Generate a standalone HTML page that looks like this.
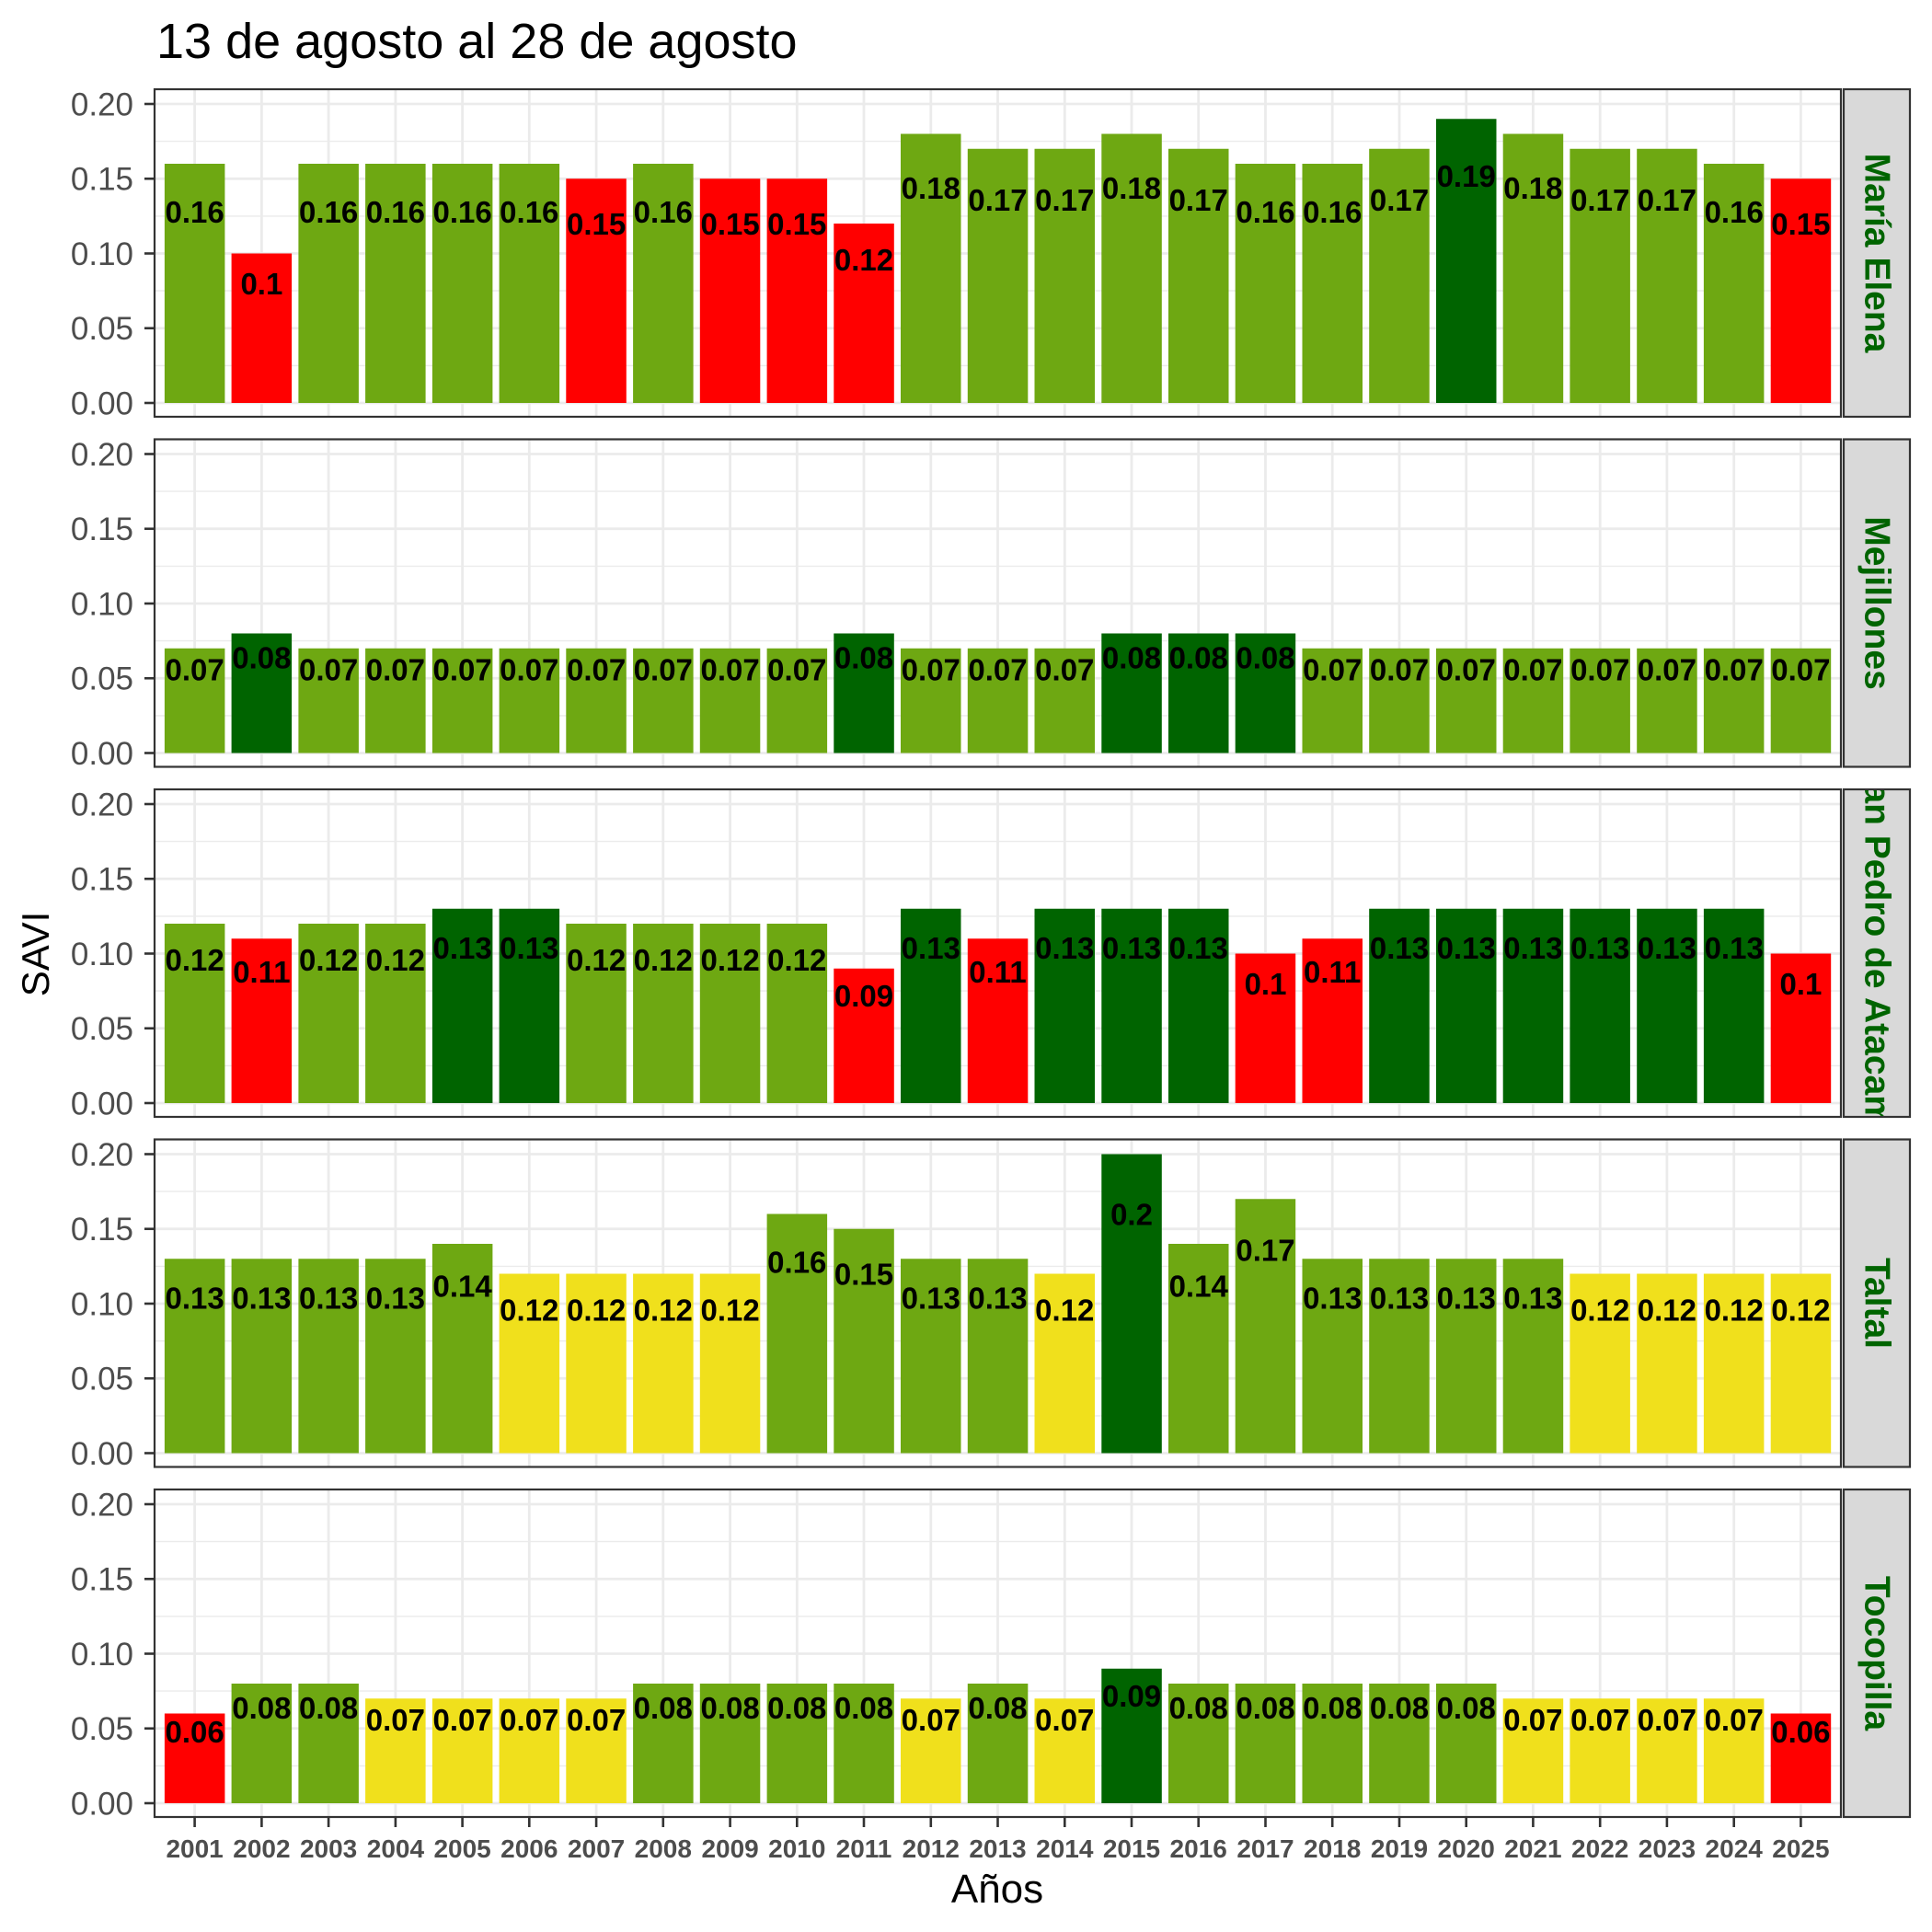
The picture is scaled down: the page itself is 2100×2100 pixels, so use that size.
<!DOCTYPE html>
<html><head><meta charset="utf-8"><style>
html,body{margin:0;padding:0;background:#fff}
svg{display:block}
.g{fill:#6EA812}.d{fill:#006400}.r{fill:#FF0000}.y{fill:#F0E01C}
.v{font-family:"Liberation Sans",Arial,sans-serif;font-weight:bold;font-size:33px;fill:#000;text-anchor:middle}
.t{font-family:"Liberation Sans",Arial,sans-serif;font-size:35px;fill:#4d4d4d;text-anchor:end}
.s{font-family:"Liberation Sans",Arial,sans-serif;font-weight:bold;font-size:39px;fill:#006400;text-anchor:middle;dominant-baseline:central}
.x{font-family:"Liberation Sans",Arial,sans-serif;font-weight:bold;font-size:28px;fill:#4d4d4d;text-anchor:middle}
</style></head><body>
<svg width="2100" height="2100" viewBox="0 0 2100 2100" xmlns="http://www.w3.org/2000/svg">
<defs>
<g id="grid">
<rect x="0" y="0" width="1833" height="356" fill="#fff"/>
<g stroke="#ebebeb" stroke-width="1.4">
<line x1="0" x2="1833" y1="300.4" y2="300.4"/><line x1="0" x2="1833" y1="219.1" y2="219.1"/><line x1="0" x2="1833" y1="137.9" y2="137.9"/><line x1="0" x2="1833" y1="56.6" y2="56.6"/>
</g>
<g stroke="#ebebeb" stroke-width="2.8">
<line x1="0" x2="1833" y1="341" y2="341"/><line x1="0" x2="1833" y1="259.75" y2="259.75"/><line x1="0" x2="1833" y1="178.5" y2="178.5"/><line x1="0" x2="1833" y1="97.25" y2="97.25"/><line x1="0" x2="1833" y1="16" y2="16"/>
<line x1="43.6" x2="43.6" y1="0" y2="356"/><line x1="116.4" x2="116.4" y1="0" y2="356"/><line x1="189.1" x2="189.1" y1="0" y2="356"/><line x1="261.9" x2="261.9" y1="0" y2="356"/><line x1="334.6" x2="334.6" y1="0" y2="356"/><line x1="407.3" x2="407.3" y1="0" y2="356"/><line x1="480.1" x2="480.1" y1="0" y2="356"/><line x1="552.8" x2="552.8" y1="0" y2="356"/><line x1="625.6" x2="625.6" y1="0" y2="356"/><line x1="698.3" x2="698.3" y1="0" y2="356"/><line x1="771" x2="771" y1="0" y2="356"/><line x1="843.8" x2="843.8" y1="0" y2="356"/><line x1="916.5" x2="916.5" y1="0" y2="356"/><line x1="989.3" x2="989.3" y1="0" y2="356"/><line x1="1062" x2="1062" y1="0" y2="356"/><line x1="1134.7" x2="1134.7" y1="0" y2="356"/><line x1="1207.5" x2="1207.5" y1="0" y2="356"/><line x1="1280.2" x2="1280.2" y1="0" y2="356"/><line x1="1353" x2="1353" y1="0" y2="356"/><line x1="1425.7" x2="1425.7" y1="0" y2="356"/><line x1="1498.4" x2="1498.4" y1="0" y2="356"/><line x1="1571.2" x2="1571.2" y1="0" y2="356"/><line x1="1643.9" x2="1643.9" y1="0" y2="356"/><line x1="1716.7" x2="1716.7" y1="0" y2="356"/><line x1="1789.4" x2="1789.4" y1="0" y2="356"/>
</g>
<g stroke="#333" stroke-width="2.6">
<line x1="-11" x2="0" y1="341" y2="341"/><line x1="-11" x2="0" y1="259.75" y2="259.75"/><line x1="-11" x2="0" y1="178.5" y2="178.5"/><line x1="-11" x2="0" y1="97.25" y2="97.25"/><line x1="-11" x2="0" y1="16" y2="16"/>
</g>
<rect x="1836" y="0" width="72" height="356" fill="#d9d9d9" stroke="#333" stroke-width="2.2"/>
</g>
<clipPath id="sc"><rect x="1837" y="1" width="70" height="354"/></clipPath>
<rect id="frame" x="0" y="0" width="1833" height="356" fill="none" stroke="#333" stroke-width="2.2"/>
</defs>

<text x="170" y="63" font-family="Liberation Sans, Arial, sans-serif" font-size="54" fill="#000">13 de agosto al 28 de agosto</text>

<!-- Panel 1 -->
<g transform="translate(168,97)">
<use href="#grid"/>
<text class="t" x="-23" y="353.5">0.00</text><text class="t" x="-23" y="272.2">0.05</text><text class="t" x="-23" y="191">0.10</text><text class="t" x="-23" y="109.7">0.15</text><text class="t" x="-23" y="28.5">0.20</text>
<rect class="g" x="10.9" y="81" width="65.5" height="260"/>
<rect class="r" x="83.6" y="178.5" width="65.5" height="162.5"/>
<rect class="g" x="156.4" y="81" width="65.5" height="260"/>
<rect class="g" x="229.1" y="81" width="65.5" height="260"/>
<rect class="g" x="301.9" y="81" width="65.5" height="260"/>
<rect class="g" x="374.6" y="81" width="65.5" height="260"/>
<rect class="r" x="447.3" y="97.25" width="65.5" height="243.75"/>
<rect class="g" x="520.1" y="81" width="65.5" height="260"/>
<rect class="r" x="592.8" y="97.25" width="65.5" height="243.75"/>
<rect class="r" x="665.6" y="97.25" width="65.5" height="243.75"/>
<rect class="r" x="738.3" y="146" width="65.5" height="195"/>
<rect class="g" x="811" y="48.5" width="65.5" height="292.5"/>
<rect class="g" x="883.8" y="64.75" width="65.5" height="276.25"/>
<rect class="g" x="956.5" y="64.75" width="65.5" height="276.25"/>
<rect class="g" x="1029.3" y="48.5" width="65.5" height="292.5"/>
<rect class="g" x="1102" y="64.75" width="65.5" height="276.25"/>
<rect class="g" x="1174.7" y="81" width="65.5" height="260"/>
<rect class="g" x="1247.5" y="81" width="65.5" height="260"/>
<rect class="g" x="1320.2" y="64.75" width="65.5" height="276.25"/>
<rect class="d" x="1393" y="32.25" width="65.5" height="308.75"/>
<rect class="g" x="1465.7" y="48.5" width="65.5" height="292.5"/>
<rect class="g" x="1538.4" y="64.75" width="65.5" height="276.25"/>
<rect class="g" x="1611.2" y="64.75" width="65.5" height="276.25"/>
<rect class="g" x="1683.9" y="81" width="65.5" height="260"/>
<rect class="r" x="1756.7" y="97.25" width="65.5" height="243.75"/>
<text class="v" x="43.6" y="145">0.16</text><text class="v" x="116.4" y="223">0.1</text><text class="v" x="189.1" y="145">0.16</text><text class="v" x="261.9" y="145">0.16</text><text class="v" x="334.6" y="145">0.16</text><text class="v" x="407.3" y="145">0.16</text><text class="v" x="480.1" y="158">0.15</text><text class="v" x="552.8" y="145">0.16</text><text class="v" x="625.6" y="158">0.15</text><text class="v" x="698.3" y="158">0.15</text><text class="v" x="771" y="197">0.12</text><text class="v" x="843.8" y="119">0.18</text><text class="v" x="916.5" y="132">0.17</text><text class="v" x="989.3" y="132">0.17</text><text class="v" x="1062" y="119">0.18</text><text class="v" x="1134.7" y="132">0.17</text><text class="v" x="1207.5" y="145">0.16</text><text class="v" x="1280.2" y="145">0.16</text><text class="v" x="1353" y="132">0.17</text><text class="v" x="1425.7" y="106">0.19</text><text class="v" x="1498.4" y="119">0.18</text><text class="v" x="1571.2" y="132">0.17</text><text class="v" x="1643.9" y="132">0.17</text><text class="v" x="1716.7" y="145">0.16</text><text class="v" x="1789.4" y="158">0.15</text>
<use href="#frame"/>
<g clip-path="url(#sc)"><text class="s" transform="rotate(90,1872,178)" x="1872" y="178">María Elena</text></g>
</g>

<!-- Panel 2 -->
<g transform="translate(168,477.5)">
<use href="#grid"/>
<text class="t" x="-23" y="353.5">0.00</text><text class="t" x="-23" y="272.2">0.05</text><text class="t" x="-23" y="191">0.10</text><text class="t" x="-23" y="109.7">0.15</text><text class="t" x="-23" y="28.5">0.20</text>
<rect class="g" x="10.9" y="227.25" width="65.5" height="113.75"/>
<rect class="d" x="83.6" y="211" width="65.5" height="130"/>
<rect class="g" x="156.4" y="227.25" width="65.5" height="113.75"/>
<rect class="g" x="229.1" y="227.25" width="65.5" height="113.75"/>
<rect class="g" x="301.9" y="227.25" width="65.5" height="113.75"/>
<rect class="g" x="374.6" y="227.25" width="65.5" height="113.75"/>
<rect class="g" x="447.3" y="227.25" width="65.5" height="113.75"/>
<rect class="g" x="520.1" y="227.25" width="65.5" height="113.75"/>
<rect class="g" x="592.8" y="227.25" width="65.5" height="113.75"/>
<rect class="g" x="665.6" y="227.25" width="65.5" height="113.75"/>
<rect class="d" x="738.3" y="211" width="65.5" height="130"/>
<rect class="g" x="811" y="227.25" width="65.5" height="113.75"/>
<rect class="g" x="883.8" y="227.25" width="65.5" height="113.75"/>
<rect class="g" x="956.5" y="227.25" width="65.5" height="113.75"/>
<rect class="d" x="1029.3" y="211" width="65.5" height="130"/>
<rect class="d" x="1102" y="211" width="65.5" height="130"/>
<rect class="d" x="1174.7" y="211" width="65.5" height="130"/>
<rect class="g" x="1247.5" y="227.25" width="65.5" height="113.75"/>
<rect class="g" x="1320.2" y="227.25" width="65.5" height="113.75"/>
<rect class="g" x="1393" y="227.25" width="65.5" height="113.75"/>
<rect class="g" x="1465.7" y="227.25" width="65.5" height="113.75"/>
<rect class="g" x="1538.4" y="227.25" width="65.5" height="113.75"/>
<rect class="g" x="1611.2" y="227.25" width="65.5" height="113.75"/>
<rect class="g" x="1683.9" y="227.25" width="65.5" height="113.75"/>
<rect class="g" x="1756.7" y="227.25" width="65.5" height="113.75"/>
<text class="v" x="43.6" y="262">0.07</text><text class="v" x="116.4" y="249">0.08</text><text class="v" x="189.1" y="262">0.07</text><text class="v" x="261.9" y="262">0.07</text><text class="v" x="334.6" y="262">0.07</text><text class="v" x="407.3" y="262">0.07</text><text class="v" x="480.1" y="262">0.07</text><text class="v" x="552.8" y="262">0.07</text><text class="v" x="625.6" y="262">0.07</text><text class="v" x="698.3" y="262">0.07</text><text class="v" x="771" y="249">0.08</text><text class="v" x="843.8" y="262">0.07</text><text class="v" x="916.5" y="262">0.07</text><text class="v" x="989.3" y="262">0.07</text><text class="v" x="1062" y="249">0.08</text><text class="v" x="1134.7" y="249">0.08</text><text class="v" x="1207.5" y="249">0.08</text><text class="v" x="1280.2" y="262">0.07</text><text class="v" x="1353" y="262">0.07</text><text class="v" x="1425.7" y="262">0.07</text><text class="v" x="1498.4" y="262">0.07</text><text class="v" x="1571.2" y="262">0.07</text><text class="v" x="1643.9" y="262">0.07</text><text class="v" x="1716.7" y="262">0.07</text><text class="v" x="1789.4" y="262">0.07</text>
<use href="#frame"/>
<g clip-path="url(#sc)"><text class="s" transform="rotate(90,1872,178)" x="1872" y="178">Mejillones</text></g>
</g>

<!-- Panel 3 -->
<g transform="translate(168,858)">
<use href="#grid"/>
<text class="t" x="-23" y="353.5">0.00</text><text class="t" x="-23" y="272.2">0.05</text><text class="t" x="-23" y="191">0.10</text><text class="t" x="-23" y="109.7">0.15</text><text class="t" x="-23" y="28.5">0.20</text>
<rect class="g" x="10.9" y="146" width="65.5" height="195"/>
<rect class="r" x="83.6" y="162.25" width="65.5" height="178.75"/>
<rect class="g" x="156.4" y="146" width="65.5" height="195"/>
<rect class="g" x="229.1" y="146" width="65.5" height="195"/>
<rect class="d" x="301.9" y="129.75" width="65.5" height="211.25"/>
<rect class="d" x="374.6" y="129.75" width="65.5" height="211.25"/>
<rect class="g" x="447.3" y="146" width="65.5" height="195"/>
<rect class="g" x="520.1" y="146" width="65.5" height="195"/>
<rect class="g" x="592.8" y="146" width="65.5" height="195"/>
<rect class="g" x="665.6" y="146" width="65.5" height="195"/>
<rect class="r" x="738.3" y="194.75" width="65.5" height="146.25"/>
<rect class="d" x="811" y="129.75" width="65.5" height="211.25"/>
<rect class="r" x="883.8" y="162.25" width="65.5" height="178.75"/>
<rect class="d" x="956.5" y="129.75" width="65.5" height="211.25"/>
<rect class="d" x="1029.3" y="129.75" width="65.5" height="211.25"/>
<rect class="d" x="1102" y="129.75" width="65.5" height="211.25"/>
<rect class="r" x="1174.7" y="178.5" width="65.5" height="162.5"/>
<rect class="r" x="1247.5" y="162.25" width="65.5" height="178.75"/>
<rect class="d" x="1320.2" y="129.75" width="65.5" height="211.25"/>
<rect class="d" x="1393" y="129.75" width="65.5" height="211.25"/>
<rect class="d" x="1465.7" y="129.75" width="65.5" height="211.25"/>
<rect class="d" x="1538.4" y="129.75" width="65.5" height="211.25"/>
<rect class="d" x="1611.2" y="129.75" width="65.5" height="211.25"/>
<rect class="d" x="1683.9" y="129.75" width="65.5" height="211.25"/>
<rect class="r" x="1756.7" y="178.5" width="65.5" height="162.5"/>
<text class="v" x="43.6" y="197">0.12</text><text class="v" x="116.4" y="210">0.11</text><text class="v" x="189.1" y="197">0.12</text><text class="v" x="261.9" y="197">0.12</text><text class="v" x="334.6" y="184">0.13</text><text class="v" x="407.3" y="184">0.13</text><text class="v" x="480.1" y="197">0.12</text><text class="v" x="552.8" y="197">0.12</text><text class="v" x="625.6" y="197">0.12</text><text class="v" x="698.3" y="197">0.12</text><text class="v" x="771" y="236">0.09</text><text class="v" x="843.8" y="184">0.13</text><text class="v" x="916.5" y="210">0.11</text><text class="v" x="989.3" y="184">0.13</text><text class="v" x="1062" y="184">0.13</text><text class="v" x="1134.7" y="184">0.13</text><text class="v" x="1207.5" y="223">0.1</text><text class="v" x="1280.2" y="210">0.11</text><text class="v" x="1353" y="184">0.13</text><text class="v" x="1425.7" y="184">0.13</text><text class="v" x="1498.4" y="184">0.13</text><text class="v" x="1571.2" y="184">0.13</text><text class="v" x="1643.9" y="184">0.13</text><text class="v" x="1716.7" y="184">0.13</text><text class="v" x="1789.4" y="223">0.1</text>
<use href="#frame"/>
<g clip-path="url(#sc)"><text class="s" transform="rotate(90,1872,178)" x="1872" y="178">San Pedro de Atacama</text></g>
</g>

<!-- Panel 4 -->
<g transform="translate(168,1238.5)">
<use href="#grid"/>
<text class="t" x="-23" y="353.5">0.00</text><text class="t" x="-23" y="272.2">0.05</text><text class="t" x="-23" y="191">0.10</text><text class="t" x="-23" y="109.7">0.15</text><text class="t" x="-23" y="28.5">0.20</text>
<rect class="g" x="10.9" y="129.75" width="65.5" height="211.25"/>
<rect class="g" x="83.6" y="129.75" width="65.5" height="211.25"/>
<rect class="g" x="156.4" y="129.75" width="65.5" height="211.25"/>
<rect class="g" x="229.1" y="129.75" width="65.5" height="211.25"/>
<rect class="g" x="301.9" y="113.5" width="65.5" height="227.5"/>
<rect class="y" x="374.6" y="146" width="65.5" height="195"/>
<rect class="y" x="447.3" y="146" width="65.5" height="195"/>
<rect class="y" x="520.1" y="146" width="65.5" height="195"/>
<rect class="y" x="592.8" y="146" width="65.5" height="195"/>
<rect class="g" x="665.6" y="81" width="65.5" height="260"/>
<rect class="g" x="738.3" y="97.25" width="65.5" height="243.75"/>
<rect class="g" x="811" y="129.75" width="65.5" height="211.25"/>
<rect class="g" x="883.8" y="129.75" width="65.5" height="211.25"/>
<rect class="y" x="956.5" y="146" width="65.5" height="195"/>
<rect class="d" x="1029.3" y="16" width="65.5" height="325"/>
<rect class="g" x="1102" y="113.5" width="65.5" height="227.5"/>
<rect class="g" x="1174.7" y="64.75" width="65.5" height="276.25"/>
<rect class="g" x="1247.5" y="129.75" width="65.5" height="211.25"/>
<rect class="g" x="1320.2" y="129.75" width="65.5" height="211.25"/>
<rect class="g" x="1393" y="129.75" width="65.5" height="211.25"/>
<rect class="g" x="1465.7" y="129.75" width="65.5" height="211.25"/>
<rect class="y" x="1538.4" y="146" width="65.5" height="195"/>
<rect class="y" x="1611.2" y="146" width="65.5" height="195"/>
<rect class="y" x="1683.9" y="146" width="65.5" height="195"/>
<rect class="y" x="1756.7" y="146" width="65.5" height="195"/>
<text class="v" x="43.6" y="184">0.13</text><text class="v" x="116.4" y="184">0.13</text><text class="v" x="189.1" y="184">0.13</text><text class="v" x="261.9" y="184">0.13</text><text class="v" x="334.6" y="171">0.14</text><text class="v" x="407.3" y="197">0.12</text><text class="v" x="480.1" y="197">0.12</text><text class="v" x="552.8" y="197">0.12</text><text class="v" x="625.6" y="197">0.12</text><text class="v" x="698.3" y="145">0.16</text><text class="v" x="771" y="158">0.15</text><text class="v" x="843.8" y="184">0.13</text><text class="v" x="916.5" y="184">0.13</text><text class="v" x="989.3" y="197">0.12</text><text class="v" x="1062" y="93">0.2</text><text class="v" x="1134.7" y="171">0.14</text><text class="v" x="1207.5" y="132">0.17</text><text class="v" x="1280.2" y="184">0.13</text><text class="v" x="1353" y="184">0.13</text><text class="v" x="1425.7" y="184">0.13</text><text class="v" x="1498.4" y="184">0.13</text><text class="v" x="1571.2" y="197">0.12</text><text class="v" x="1643.9" y="197">0.12</text><text class="v" x="1716.7" y="197">0.12</text><text class="v" x="1789.4" y="197">0.12</text>
<use href="#frame"/>
<g clip-path="url(#sc)"><text class="s" transform="rotate(90,1872,178)" x="1872" y="178">Taltal</text></g>
</g>

<!-- Panel 5 -->
<g transform="translate(168,1619)">
<use href="#grid"/>
<text class="t" x="-23" y="353.5">0.00</text><text class="t" x="-23" y="272.2">0.05</text><text class="t" x="-23" y="191">0.10</text><text class="t" x="-23" y="109.7">0.15</text><text class="t" x="-23" y="28.5">0.20</text>
<rect class="r" x="10.9" y="243.5" width="65.5" height="97.5"/>
<rect class="g" x="83.6" y="211" width="65.5" height="130"/>
<rect class="g" x="156.4" y="211" width="65.5" height="130"/>
<rect class="y" x="229.1" y="227.25" width="65.5" height="113.75"/>
<rect class="y" x="301.9" y="227.25" width="65.5" height="113.75"/>
<rect class="y" x="374.6" y="227.25" width="65.5" height="113.75"/>
<rect class="y" x="447.3" y="227.25" width="65.5" height="113.75"/>
<rect class="g" x="520.1" y="211" width="65.5" height="130"/>
<rect class="g" x="592.8" y="211" width="65.5" height="130"/>
<rect class="g" x="665.6" y="211" width="65.5" height="130"/>
<rect class="g" x="738.3" y="211" width="65.5" height="130"/>
<rect class="y" x="811" y="227.25" width="65.5" height="113.75"/>
<rect class="g" x="883.8" y="211" width="65.5" height="130"/>
<rect class="y" x="956.5" y="227.25" width="65.5" height="113.75"/>
<rect class="d" x="1029.3" y="194.75" width="65.5" height="146.25"/>
<rect class="g" x="1102" y="211" width="65.5" height="130"/>
<rect class="g" x="1174.7" y="211" width="65.5" height="130"/>
<rect class="g" x="1247.5" y="211" width="65.5" height="130"/>
<rect class="g" x="1320.2" y="211" width="65.5" height="130"/>
<rect class="g" x="1393" y="211" width="65.5" height="130"/>
<rect class="y" x="1465.7" y="227.25" width="65.5" height="113.75"/>
<rect class="y" x="1538.4" y="227.25" width="65.5" height="113.75"/>
<rect class="y" x="1611.2" y="227.25" width="65.5" height="113.75"/>
<rect class="y" x="1683.9" y="227.25" width="65.5" height="113.75"/>
<rect class="r" x="1756.7" y="243.5" width="65.5" height="97.5"/>
<text class="v" x="43.6" y="275">0.06</text><text class="v" x="116.4" y="249">0.08</text><text class="v" x="189.1" y="249">0.08</text><text class="v" x="261.9" y="262">0.07</text><text class="v" x="334.6" y="262">0.07</text><text class="v" x="407.3" y="262">0.07</text><text class="v" x="480.1" y="262">0.07</text><text class="v" x="552.8" y="249">0.08</text><text class="v" x="625.6" y="249">0.08</text><text class="v" x="698.3" y="249">0.08</text><text class="v" x="771" y="249">0.08</text><text class="v" x="843.8" y="262">0.07</text><text class="v" x="916.5" y="249">0.08</text><text class="v" x="989.3" y="262">0.07</text><text class="v" x="1062" y="236">0.09</text><text class="v" x="1134.7" y="249">0.08</text><text class="v" x="1207.5" y="249">0.08</text><text class="v" x="1280.2" y="249">0.08</text><text class="v" x="1353" y="249">0.08</text><text class="v" x="1425.7" y="249">0.08</text><text class="v" x="1498.4" y="262">0.07</text><text class="v" x="1571.2" y="262">0.07</text><text class="v" x="1643.9" y="262">0.07</text><text class="v" x="1716.7" y="262">0.07</text><text class="v" x="1789.4" y="275">0.06</text>
<use href="#frame"/>
<g clip-path="url(#sc)"><text class="s" transform="rotate(90,1872,178)" x="1872" y="178">Tocopilla</text></g>
<g stroke="#333" stroke-width="2.6">
<line x1="43.6" x2="43.6" y1="356" y2="367"/><line x1="116.4" x2="116.4" y1="356" y2="367"/><line x1="189.1" x2="189.1" y1="356" y2="367"/><line x1="261.9" x2="261.9" y1="356" y2="367"/><line x1="334.6" x2="334.6" y1="356" y2="367"/><line x1="407.3" x2="407.3" y1="356" y2="367"/><line x1="480.1" x2="480.1" y1="356" y2="367"/><line x1="552.8" x2="552.8" y1="356" y2="367"/><line x1="625.6" x2="625.6" y1="356" y2="367"/><line x1="698.3" x2="698.3" y1="356" y2="367"/><line x1="771" x2="771" y1="356" y2="367"/><line x1="843.8" x2="843.8" y1="356" y2="367"/><line x1="916.5" x2="916.5" y1="356" y2="367"/><line x1="989.3" x2="989.3" y1="356" y2="367"/><line x1="1062" x2="1062" y1="356" y2="367"/><line x1="1134.7" x2="1134.7" y1="356" y2="367"/><line x1="1207.5" x2="1207.5" y1="356" y2="367"/><line x1="1280.2" x2="1280.2" y1="356" y2="367"/><line x1="1353" x2="1353" y1="356" y2="367"/><line x1="1425.7" x2="1425.7" y1="356" y2="367"/><line x1="1498.4" x2="1498.4" y1="356" y2="367"/><line x1="1571.2" x2="1571.2" y1="356" y2="367"/><line x1="1643.9" x2="1643.9" y1="356" y2="367"/><line x1="1716.7" x2="1716.7" y1="356" y2="367"/><line x1="1789.4" x2="1789.4" y1="356" y2="367"/>
</g>
<text class="x" x="43.6" y="400">2001</text><text class="x" x="116.4" y="400">2002</text><text class="x" x="189.1" y="400">2003</text><text class="x" x="261.9" y="400">2004</text><text class="x" x="334.6" y="400">2005</text><text class="x" x="407.3" y="400">2006</text><text class="x" x="480.1" y="400">2007</text><text class="x" x="552.8" y="400">2008</text><text class="x" x="625.6" y="400">2009</text><text class="x" x="698.3" y="400">2010</text><text class="x" x="771" y="400">2011</text><text class="x" x="843.8" y="400">2012</text><text class="x" x="916.5" y="400">2013</text><text class="x" x="989.3" y="400">2014</text><text class="x" x="1062" y="400">2015</text><text class="x" x="1134.7" y="400">2016</text><text class="x" x="1207.5" y="400">2017</text><text class="x" x="1280.2" y="400">2018</text><text class="x" x="1353" y="400">2019</text><text class="x" x="1425.7" y="400">2020</text><text class="x" x="1498.4" y="400">2021</text><text class="x" x="1571.2" y="400">2022</text><text class="x" x="1643.9" y="400">2023</text><text class="x" x="1716.7" y="400">2024</text><text class="x" x="1789.4" y="400">2025</text>
</g>

<text x="1084" y="2068" text-anchor="middle" font-family="Liberation Sans, Arial, sans-serif" font-size="44" fill="#000">Años</text>
<text x="0" y="0" text-anchor="middle" transform="translate(53,1037) rotate(-90)" font-family="Liberation Sans, Arial, sans-serif" font-size="42" fill="#000">SAVI</text>
</svg>
</body></html>
